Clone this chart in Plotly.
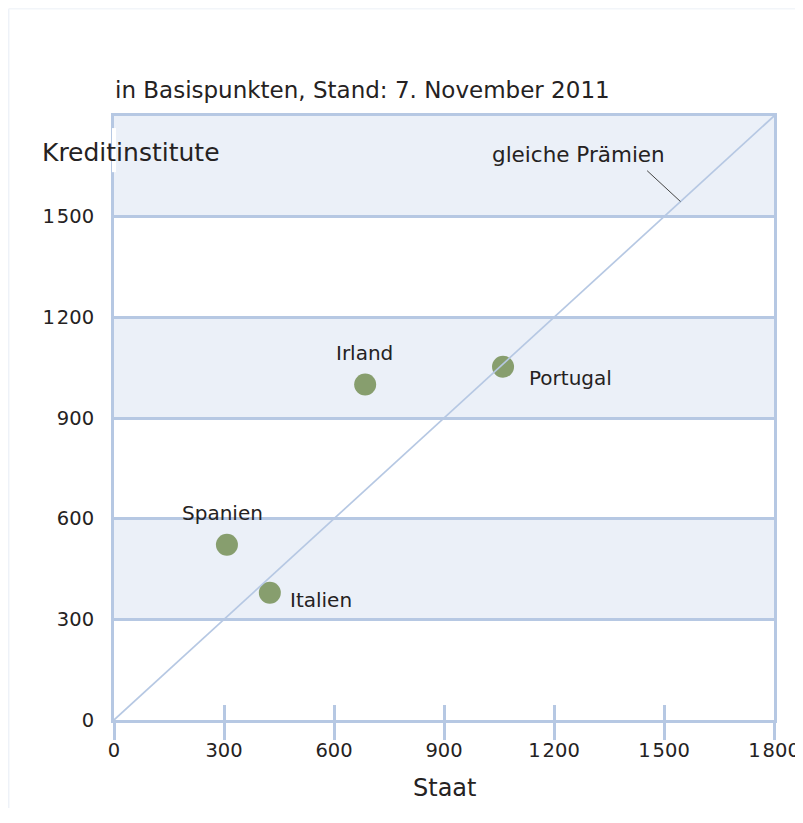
import plotly.graph_objects as go

# Risikoprämien (CDS) in Basispunkten, Stand 7. November 2011
laender = ["Spanien", "Italien", "Irland", "Portugal"]
staat = [308, 425, 685, 1061]
kreditinstitute = [522, 379, 1000, 1053]

# Beschriftungsversatz je Punkt (px)
label_anchor = ["center", "left", "center", "left"]
label_dx = [-4, 18, -1, 24]
label_dy = [32, -7, 31, -11]

tick_vals = [0, 300, 600, 900, 1200, 1500, 1800]
x_tick_text = ["0", "300", "600", "900", "1\u200a200", "1\u200a500", "1\u200a800"]
y_tick_vals = [0, 300, 600, 900, 1200, 1500]
y_tick_text = ["0", "300", "600", "900", "1\u200a200", "1\u200a500"]
band_starts = [300, 900, 1500]
band_height = 300
diag = [0, 1800]

LINE = "#b6c8e3"
FILL = "#ebf0f8"
GREEN = "#879e6e"
TEXT = "#252222"
FONT = "DejaVu Sans"

fig = go.Figure()

# Linie gleicher Prämien
fig.add_trace(go.Scatter(x=diag, y=diag, mode="lines", xaxis="x2",
                         line=dict(color=LINE, width=1.7), hoverinfo="skip"))

fig.add_trace(go.Scatter(
    x=staat, y=kreditinstitute, mode="markers",
    marker=dict(size=22, color=GREEN), hoverinfo="text", text=laender,
))

shapes = []
for b in band_starts:
    shapes.append(dict(type="rect", xref="x", yref="y", x0=0, x1=1800,
                       y0=b, y1=b + band_height, fillcolor=FILL,
                       line=dict(width=0), layer="below"))
# Hinweislinie zu "gleiche Prämien"
shapes.append(dict(type="line", xref="x", yref="y", x0=1454, y0=1637,
                   x1=1545, y1=1545, line=dict(color="#444444", width=1)))
# Lücke in der y-Achse hinter "Kreditinstitute"
shapes.append(dict(type="line", xref="paper", yref="paper", x0=0, x1=0,
                   y0=0.907, y1=0.980, line=dict(color="white", width=4)))
# zarter Seitenrahmen
shapes.append(dict(type="line", xref="paper", yref="paper", x0=-0.1595, x1=-0.1595,
                   y0=-0.15, y1=1.1776, line=dict(color="#eef2f8", width=1.5)))
shapes.append(dict(type="line", xref="paper", yref="paper", x0=-0.1595, x1=1.05,
                   y0=1.1776, y1=1.1776, line=dict(color="#f2f5f9", width=1.5)))

annotations = [
    dict(text="in Basispunkten, Stand: 7. November 2011", xref="paper", yref="paper",
         x=-0.0015, y=1.0, xanchor="left", yanchor="middle", yshift=26,
         showarrow=False, font=dict(family=FONT, size=23, color=TEXT)),
    dict(text="Kreditinstitute", xref="paper", yref="paper",
         x=-0.112, y=0.939, xanchor="left", yanchor="middle",
         showarrow=False, font=dict(family=FONT, size=25, color=TEXT)),
    dict(text="gleiche Prämien", xref="x", yref="y",
         x=1268, y=1685, xanchor="center", yanchor="middle",
         showarrow=False, font=dict(family=FONT, size=21.5, color=TEXT)),
    dict(text="Staat", xref="paper", yref="paper",
         x=0.5, y=0, xanchor="center", yanchor="middle", yshift=-68,
         showarrow=False, font=dict(family=FONT, size=24, color=TEXT)),
]
for name, xv, yv, anc, dx, dy in zip(laender, staat, kreditinstitute,
                                     label_anchor, label_dx, label_dy):
    annotations.append(dict(text=name, x=xv, y=yv, xref="x", yref="y",
                            xanchor=anc, yanchor="middle", xshift=dx, yshift=dy,
                            showarrow=False,
                            font=dict(family=FONT, size=20, color=TEXT)))

fig.update_layout(
    width=795, height=800,
    margin=dict(l=106, r=29, t=108, b=88, autoexpand=False),
    paper_bgcolor="white", plot_bgcolor="white",
    showlegend=False,
    shapes=shapes, annotations=annotations,
    xaxis=dict(range=[0, 1800], tickvals=tick_vals, ticktext=x_tick_text,
               ticks="outside", ticklen=17, tickwidth=3, tickcolor=LINE,
               showline=True, linewidth=3, linecolor=LINE, mirror=True,
               showgrid=False, zeroline=False, ticklabelstandoff=-6,
               automargin=False,
               tickfont=dict(family=FONT, size=19.5, color=TEXT)),
    xaxis2=dict(range=[0, 1800], overlaying="x", anchor="y", side="bottom",
                tickvals=tick_vals, ticks="inside", ticklen=15, tickwidth=3,
                tickcolor=LINE, showticklabels=False, showline=False,
                showgrid=False, zeroline=False, automargin=False),
    yaxis=dict(range=[0, 1800], tickvals=y_tick_vals, ticktext=y_tick_text,
               ticks="", showline=True, linewidth=3, linecolor=LINE, mirror=True,
               showgrid=True, gridcolor=LINE, gridwidth=3, zeroline=False,
               ticklabelstandoff=13, automargin=False,
               tickfont=dict(family=FONT, size=19.5, color=TEXT)),
)

fig.write_html("out.html")
